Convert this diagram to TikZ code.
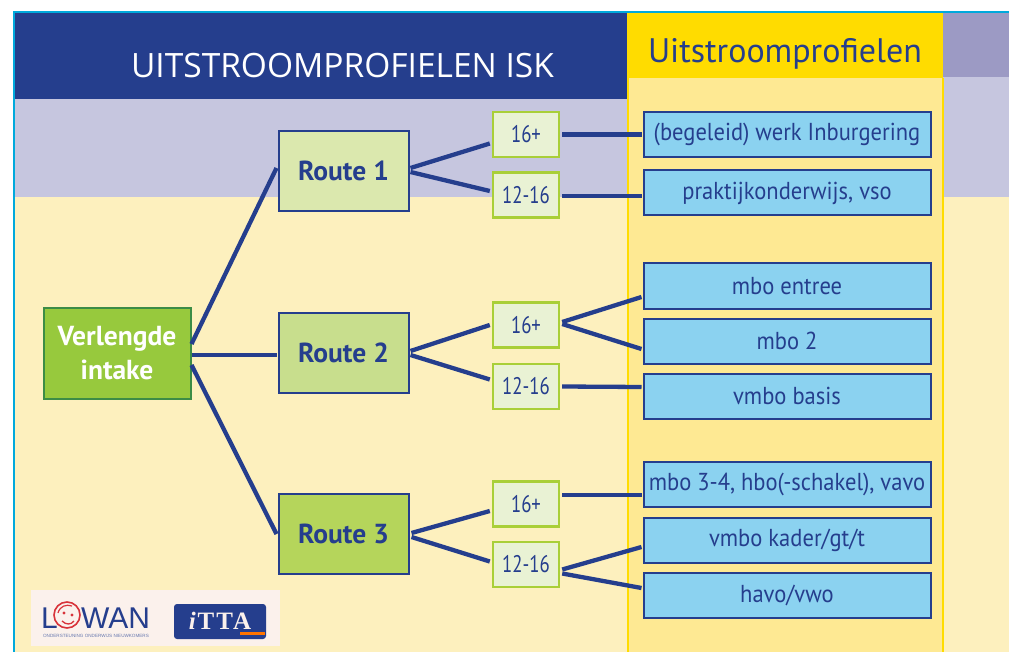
\documentclass[tikz,border=0pt]{standalone}
\usepackage{fontspec}
\setmainfont{PT Sans}
\newfontfamily\boxfont[FakeStretch=0.92]{PT Sans}
\newfontfamily\agefont[FakeStretch=0.78]{PT Sans}
\newfontfamily\titlefont{Open Sans}
\newfontfamily\logofont{Liberation Sans}
\newfontfamily\ittafont[LetterSpace=8]{Liberation Serif}
\usetikzlibrary{calc}
\definecolor{navy}{HTML}{253E8D}
\definecolor{frameblue}{HTML}{00A9DC}
\definecolor{lilac}{HTML}{C6C6DF}
\definecolor{lilacdark}{HTML}{9C9AC4}
\definecolor{cream}{HTML}{FDF0BE}
\definecolor{goldbar}{HTML}{FFDC00}
\definecolor{colfill}{HTML}{FEE993}
\definecolor{skyfill}{HTML}{8BD2F0}
\definecolor{limeline}{HTML}{A9CF38}
\definecolor{agefill}{HTML}{E9F2D4}
\definecolor{logobg}{HTML}{FBF1EC}
\definecolor{logored}{HTML}{D8333A}
\tikzset{
  x=1pt,y=-1pt,
  box/.style={draw=navy,line width=2pt,minimum height=#1,inner sep=0pt,align=center,text=navy},
  routebox/.style={box=80pt,minimum width=130pt,font=\bfseries\fontsize{27.5}{30}\selectfont},
  agebox/.style={draw=limeline,line width=2.4pt,fill=agefill,minimum width=66pt,minimum height=45pt,inner sep=0pt,text=navy,font=\agefont\fontsize{24}{26}\selectfont},
  outbox/.style={box=45pt,fill=skyfill,minimum width=287pt,font=\boxfont\fontsize{24.5}{26}\selectfont},
  link/.style={draw=navy,line width=4.3pt},
}
\begin{document}
\begin{tikzpicture}
\useasboundingbox (0,0) rectangle (1009,652);
\fill[white] (0,0) rectangle (1009,652);
% background bands
\fill[cream] (13,197) rectangle (1009,652);
\fill[lilac] (13,77) rectangle (1009,197);
\fill[navy] (13,13) rectangle (627,99);
\fill[lilacdark] (943,13) rectangle (1009,77);
\fill[colfill] (627,78) rectangle (943,652);
\draw[goldbar,line width=2pt] (628,78) -- (628,652) (943,78) -- (943,652);
\fill[goldbar] (627,13) rectangle (943,78);
\draw[frameblue,line width=2pt] (14,652) -- (14,12) -- (1009,12);
% titles
\node[text=white,font=\titlefont\fontsize{33.5}{40}\selectfont,inner sep=0pt] (t1) at (342.5,66) {UITSTROOMPROFIELEN ISK};
\node[text=navy,font=\fontsize{34}{36}\selectfont,inner sep=0pt] (t2) at (785,54) {Uitstroomprofielen};
% nodes
\node[box=91pt,minimum width=147pt,fill={rgb,255:red,151;green,201;blue,61},draw={rgb,255:red,60;green,140;blue,70},text=white,font=\bfseries\fontsize{27.5}{34}\selectfont] (v) at (117,353) {\raisebox{-1.5pt}{Verlengde}\\\raisebox{-1.5pt}{intake}};
\node[routebox,fill={rgb,255:red,219;green,232;blue,174}] (r1) at (343.5,171) {\raisebox{-1.5pt}{Route 1}};
\node[routebox,fill={rgb,255:red,200;green,222;blue,141}] (r2) at (343.5,353) {\raisebox{-1.5pt}{Route 2}};
\node[routebox,fill={rgb,255:red,181;green,213;blue,91}] (r3) at (343.5,534) {\raisebox{-1.5pt}{Route 3}};
\node[agebox] (a1) at (526,134.5) {\raisebox{-1.5pt}{16+}};
\node[agebox] (a2) at (526,195) {\raisebox{-1.5pt}{12-16}};
\node[agebox] (a3) at (526,325) {\raisebox{-1.5pt}{16+}};
\node[agebox] (a4) at (526,386.5) {\raisebox{-1.5pt}{12-16}};
\node[agebox] (a5) at (526,504) {\raisebox{-1.5pt}{16+}};
\node[agebox] (a6) at (526,564.5) {\raisebox{-1.5pt}{12-16}};
\node[outbox] (o1) at (787,134.5) {\raisebox{-2pt}{(begeleid) werk Inburgering}};
\node[outbox] (o2) at (787,193) {\raisebox{-2pt}{praktijkonderwijs, vso}};
\node[outbox] (o3) at (787,286) {\raisebox{-2pt}{mbo entree}};
\node[outbox] (o4) at (787,341) {\raisebox{-2pt}{mbo 2}};
\node[outbox] (o5) at (787,396) {\raisebox{-2pt}{vmbo basis}};
\node[outbox] (o6) at (787,484) {\raisebox{-2pt}{mbo 3-4, hbo(-schakel), vavo}};
\node[outbox] (o7) at (787,540) {\raisebox{-2pt}{vmbo kader/gt/t}};
\node[outbox] (o8) at (787,595) {\raisebox{-2pt}{havo/vwo}};
% connectors
\draw[link] ($(v.east)+(0,-9)$) -- ($(r1.west)+(-1,-3)$);
\draw[link] ($(v.east)+(0,2)$) -- ($(r2.west)+(-1,2)$);
\draw[link] ($(v.east)+(0,12)$) -- ($(r3.west)+(-1,0)$);
\draw[link] ($(r1.east)+(1,-3)$) -- ($(a1.west)+(-2,9)$);
\draw[link] ($(r1.east)+(1,1)$) -- ($(a2.west)+(-2,-4)$);
\draw[link] ($(r2.east)+(1,-2)$) -- ($(a3.west)+(-2,0)$);
\draw[link] ($(r2.east)+(1,2)$) -- ($(a4.west)+(-2,-7)$);
\draw[link] ($(r3.east)+(2,-1)$) -- ($(a5.west)+(-2,7)$);
\draw[link] ($(r3.east)+(2,3)$) -- ($(a6.west)+(-2,-3)$);
\draw[link] ($(a1.east)+(2,0)$) -- ($(o1.west)+(-1,0)$);
\draw[link] ($(a2.east)+(2,1)$) -- ($(o2.west)+(-1,3)$);
\draw[link] ($(a3.east)+(2,-3)$) -- ($(o3.west)+(-1,11)$);
\draw[link] ($(a3.east)+(2,-1)$) -- ($(o4.west)+(-1,8)$);
\draw[link] ($(a4.east)+(2,0)$) -- ($(o5.west)+(-1,-9)$);
\draw[link] ($(a5.east)+(2,-9)$) -- ($(o6.west)+(-1,11)$);
\draw[link] ($(a6.east)+(2,5)$) -- ($(o7.west)+(-1,7)$);
\draw[link] ($(a6.east)+(2,9)$) -- ($(o8.west)+(-1,-7)$);
% logos
\fill[logobg] (31,590) rectangle (280,646);
\node[text=navy,font=\logofont\fontsize{30}{30}\selectfont,inner sep=0pt,anchor=base west] (lowanA) at (41,628) {L};
\node[text=navy,font=\logofont\fontsize{30}{30}\selectfont,inner sep=0pt,anchor=base west] (lowanB) at (81,628) {WAN};
\draw[logored,line width=1.6pt] (67,615) circle (13);
\draw[logored,line width=1.2pt] (58,613) .. controls (60,606) and (66,604) .. (72,606);
\fill[logored] (64,613) circle (1.6) (72,615) circle (1.6);
\draw[logored,line width=1.3pt] (62,621) .. controls (66,625) and (71,625) .. (74,621);
\node[text=navy!70,font=\logofont\fontsize{4.6}{5}\selectfont,inner sep=0pt] (lowanC) at (96,636) {ONDERSTEUNING ONDERWIJS NIEUWKOMERS};
\fill[navy,rounded corners=3pt] (174,604) rectangle (266,639);
\fill[orange!90!red] (240,632) rectangle (265,635);
\node[text=logobg,font=\ittafont\bfseries\fontsize{25}{26}\selectfont,inner sep=0pt] (itta) at (220,621) {\textit{i}TTA};
\end{tikzpicture}
\end{document}
